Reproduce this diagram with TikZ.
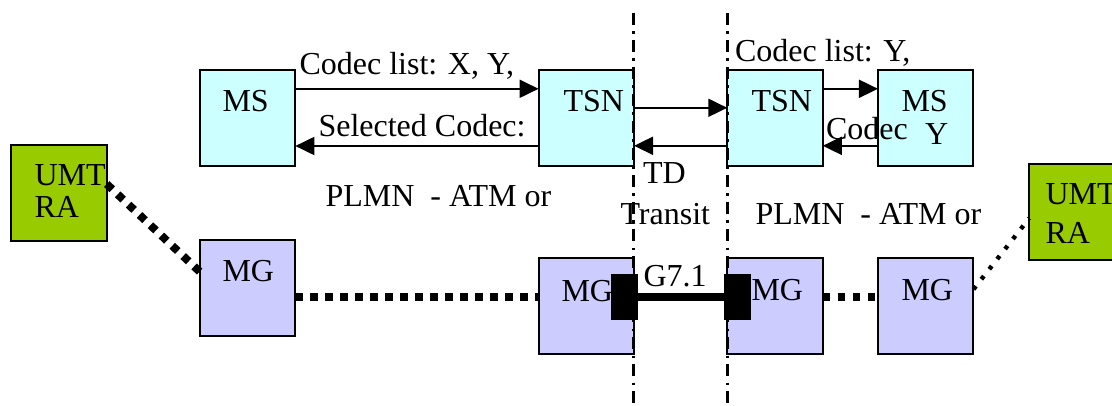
\documentclass[tikz,border=0pt]{standalone}
\usepackage{fontspec}
\setmainfont{Liberation Serif}
\usetikzlibrary{arrows.meta}
\definecolor{cyanbox}{HTML}{CCFFFF}
\definecolor{lavbox}{HTML}{CCCCFF}
\definecolor{greenbox}{HTML}{99CC00}
\begin{document}
\begin{tikzpicture}[x=0.5pt,y=-0.5pt,
  box/.style={draw=black,line width=1pt,minimum width=47.75pt,minimum height=48pt,inner sep=0pt,outer sep=0pt},
  cbox/.style={box,fill=cyanbox},
  pbox/.style={box,fill=lavbox},
  gbox/.style={box,fill=greenbox},
  blk/.style={fill=black,draw=none,minimum width=13.6pt,minimum height=23pt,inner sep=0pt},
  txt/.style={anchor=base west,inner sep=0pt,outer sep=0pt,font=\fontsize{16pt}{19pt}\selectfont},
  arr/.style={line width=1pt,-{Triangle[length=9.5pt,width=9pt]}},
  sqdot/.style={line width=4pt,dash pattern=on 3.8pt off 3.7pt},
  thindot/.style={line width=2.2pt,dash pattern=on 2pt off 4.4pt},
  vline/.style={line width=1.25pt,dash pattern=on 6pt off 3.25pt on 1.25pt off 3pt},
  thick link/.style={line width=4pt}]
\fill[white] (0,0) rectangle (1112,406);
\useasboundingbox (0,0) rectangle (1112,406);
\clip (0,0) rectangle (1112,406);

% boxes
\node[gbox] (umtl) at (59,193.3) {};
\node[cbox] (msl)  at (247.6,117.8) {};
\node[cbox] (tsnl) at (586.3,117.8) {};
\node[cbox] (tsnr) at (775,117.8) {};
\node[cbox] (msr)  at (925.7,117.8) {};
\node[pbox] (mgl)  at (247.6,287.8) {};
\node[pbox] (mgml) at (586.3,306.3) {};
\node[pbox] (mgmr) at (775,306.3) {};
\node[pbox] (mgr)  at (925.7,306.3) {};
\node[gbox] (umtr) at (1077,212.2) {};

% arrows
\draw[arr] ([yshift=14.5pt]msl.east) -- ([yshift=14.5pt]tsnl.west);
\draw[arr] ([yshift=-14.1pt]tsnl.west) -- ([yshift=-14.1pt]msl.east);
\draw[arr] ([yshift=5pt]tsnl.east) -- ([yshift=5pt]tsnr.west);
\draw[arr] ([yshift=-14pt]tsnr.west) -- ([yshift=-14pt]tsnl.east);
\draw[arr] ([yshift=14.5pt]tsnr.east) -- ([yshift=14.5pt]msr.west);
\draw[arr] ([yshift=-14pt]msr.west) -- ([yshift=-14pt]tsnr.east);

% dotted bearer links
\draw[sqdot] ([yshift=4.6pt]umtl.east) -- ([yshift=8pt]mgl.west);
\draw[sqdot] ([yshift=-4.45pt]mgl.east) -- ([yshift=4.8pt]mgml.west);
\draw[sqdot] ([yshift=4.8pt]mgmr.east) -- ([yshift=4.8pt]mgr.west);
\draw[thindot] ([yshift=8.5pt]mgr.east) -- ([yshift=-3pt]umtr.west);

% G7.1 link
\node[blk] (blkl) at (624.2,297) {};
\node[blk] (blkr) at (737.5,297) {};
\draw[thick link] (blkl) -- (blkr);

% boundary lines
\coordinate (v1t) at (633.5,13);
\coordinate (v1b) at (633.5,406);
\coordinate (v2t) at (727.4,13);
\coordinate (v2b) at (727.4,406);
\draw[vline] (v1t) -- (v1b);
\draw[vline] (v2t) -- (v2b);

% texts
\node[txt] (t1) at (34.5,185.7) {UMT};
\node[txt] (t2) at (34.5,217.7) {RA};
\node[txt] (t3) at (222.5,111.7) {MS};
\node[txt] (t4) at (222.5,281.7) {MG};
\node[txt] (t5) at (563.5,111.7) {TSN};
\node[txt] (t6) at (561.5,301) {MG};
\node[txt] (t7) at (751.5,111.5) {TSN};
\node[txt] (t8) at (901.5,111.7) {MS};
\node[txt] (t9) at (925,145) {Y};
\node[txt] (t10) at (751.5,300.5) {MG};
\node[txt] (t11) at (901.5,300.5) {MG};
\node[txt] (t12) at (1045.5,205) {UMT};
\node[txt] (t13) at (1045.5,243) {RA};
\node[txt] (t14) at (299.5,75) {Codec list: X, Y,};
\node[txt] (t15) at (318.5,136.7) {Selected Codec:};
\node[txt] (t16) at (325.5,206) {PLMN\ \ - ATM or};
\node[txt] (t17) at (735,61.7) {Codec list: Y,};
\node[txt] (t18) at (826,140) {Codec};
\node[txt] (t19) at (643,183.3) {TD};
\node[txt] (t20) at (620.5,225) {Transit};
\node[txt] (t21) at (755.5,225) {PLMN\ \ - ATM or};
\node[txt] (t22) at (643.5,286) {G7.1};
\end{tikzpicture}
\end{document}
